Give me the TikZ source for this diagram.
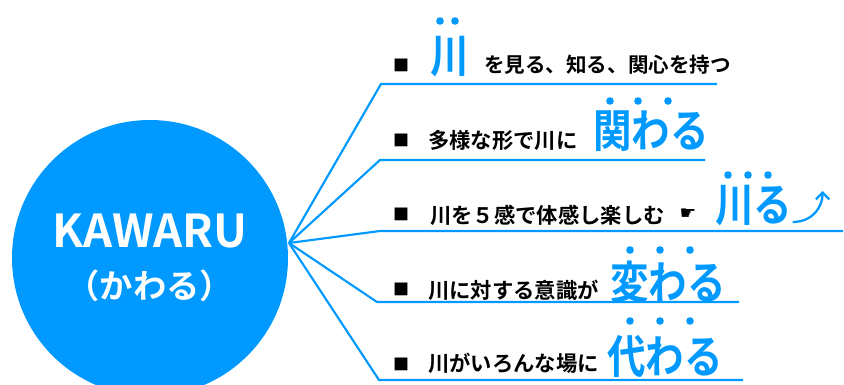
\documentclass[tikz,border=0pt]{standalone}
\usepackage{fontspec}
\setmainfont{Noto Sans CJK JP}[BoldFont={Noto Sans CJK JP Bold}]
\newfontfamily\symbolfont{DejaVu Sans}
\usepackage{tikz}
\usetikzlibrary{arrows.meta, positioning}

\definecolor{kawablue}{RGB}{0,153,255}

\tikzset{
	branch/.style={draw=kawablue, line width=1.6pt},
	itemtext/.style={anchor=west, inner sep=0pt, font=\fontsize{16}{16}\selectfont\bfseries},
	bigword/.style={anchor=west, inner sep=0pt, text=kawablue, font=\fontsize{34}{34}\selectfont\bfseries},
	bulletmark/.style={inner sep=0pt, font=\fontsize{12}{12}\selectfont},
	emdot/.style={fill=kawablue},
}

\begin{document}
\begin{tikzpicture}[x=0.75pt, y=-0.75pt]
	\useasboundingbox (0,0) rectangle (844,385);

	\node[
		circle,
		fill=kawablue,
		minimum size=207pt,
		inner sep=0pt,
		text=white,
		align=center,
		font=\bfseries\fontsize{25}{38}\selectfont
	] (kawaru) at (150,258) {{\fontsize{34}{38}\selectfont KAWARU}\\（かわる）};

	\coordinate (hub) at (289,243);
	\foreach \n/\xs/\xe/\y in {1/381/717/84, 2/380/705/160, 3/380/843/231, 4/377/739/302, 5/379/743/380} {
		\coordinate (start\n) at (\xs,\y);
		\coordinate (end\n) at (\xe,\y);
		\draw[branch] (hub) -- (start\n) -- (end\n);
	}

	\foreach \n/\y in {1/65, 2/140, 3/214, 4/289, 5/364}
		\node[bulletmark] (mark\n) at (401,\y) {■};

	% row 1
	\node[bigword] (kawa) at (430,57) {\scalebox{0.85}[1]{川}};
	\node[itemtext, font=\fontsize{15.4}{15.4}\selectfont\bfseries] (item1) at (484,65) {を見る、知る、関心を持つ};

	% row 2
	\node[itemtext] (item2) at (428,140) {多様な形で川に};
	\node[bigword] (kakawaru) at (593,131) {\scalebox{0.85}[1]{関わる}};

	% row 3
	\node[itemtext] (item3) at (430,215) {川を５感で体感し楽しむ};
	\node[inner sep=0pt, font=\symbolfont\fontsize{14}{14}\selectfont] (hand) at (688,214) {☛};
	\node[bigword] (kawaru3) at (715,206) {\scalebox{0.85}[1]{川る}};
	\draw[kawablue, line width=1.7pt, -{Straight Barb[length=5pt, width=10pt]}]
		(kawaru3.east) ++(0,16) .. controls ++(20,0) and ++(0,16) .. ++(30,-31);

	% row 4
	\node[itemtext] (item4) at (428,290) {川に対する意識が};
	\node[bigword] (kawaru4) at (610,282) {\scalebox{0.85}[1]{変わる}};

	% row 5
	\node[itemtext] (item5) at (428,363) {川がいろんな場に};
	\node[bigword] (kawaru5) at (607,356) {\scalebox{0.85}[1]{代わる}};

	\foreach \x/\y in {440/21, 455/21, 610/101, 638/101, 668/101, 728/175, 748/175, 768/175,
		630/250, 660/250, 690/250, 630/321, 660/321, 690/321}
		\fill[emdot] (\x,\y) circle[radius=3.8];
\end{tikzpicture}
\end{document}
